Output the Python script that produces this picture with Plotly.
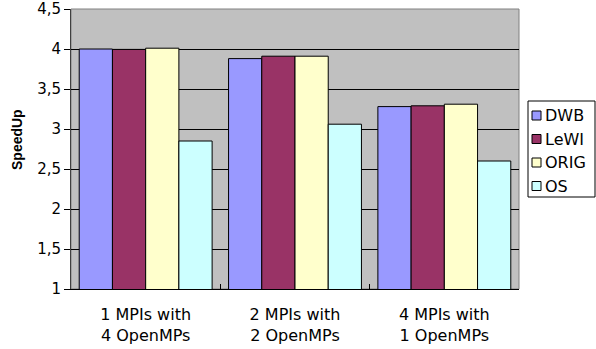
import plotly.graph_objects as go

categories = ["1 MPIs with<br>4 OpenMPs", "2 MPIs with<br>2 OpenMPs", "4 MPIs with<br>1 OpenMPs"]
series_names = ["DWB", "LeWI", "ORIG", "OS"]
dwb = [4.00, 3.88, 3.28]
lewi = [3.995, 3.91, 3.29]
orig = [4.01, 3.91, 3.31]
os_vals = [2.85, 3.06, 2.60]
colors = ["#9999FF", "#993366", "#FFFFCC", "#CCFFFF"]
y_ticks = [1, 1.5, 2, 2.5, 3, 3.5, 4, 4.5]
y_title = "SpeedUp"

W, H = 596, 349
L, R, T, B = 71, 77, 9, 60
PW, PH = W - L - R, H - T - B


def px_x(px):
    return (px - L) / PW


def px_y(py):
    return (H - B - py) / PH


FONT = "DejaVu Sans, Liberation Sans, Arial, sans-serif"

fig = go.Figure()
for name, vals, col in zip(series_names, [dwb, lewi, orig, os_vals], colors):
    fig.add_trace(go.Bar(
        x=categories, y=vals, name=name, showlegend=False,
        marker=dict(color=col, line=dict(color="black", width=1)),
    ))

fig.update_layout(
    width=W, height=H,
    margin=dict(l=L, r=R, t=T, b=B, autoexpand=False),
    paper_bgcolor="white",
    plot_bgcolor="#C0C0C0",
    barmode="group",
    bargap=0.11,
    bargroupgap=0,
    separators=", ",
    font=dict(family=FONT, color="black"),
    showlegend=False,
    xaxis=dict(
        showline=True, linecolor="black", linewidth=1,
        ticks="inside", tickson="boundaries", ticklen=5, tickcolor="black",
        tickfont=dict(size=16), showgrid=False, ticklabelstandoff=11,
    ),
    yaxis=dict(
        range=[1, 4.5], tickvals=y_ticks, ticks="outside", ticklen=6,
        tickcolor="black", tickfont=dict(size=15),
        showline=True, linecolor="#404040", linewidth=1,
        showgrid=True, gridcolor="black", gridwidth=1,
        zeroline=False,
    ),
)
fig.add_shape(type="rect", xref="paper", yref="paper", x0=0, y0=0, x1=1, y1=1,
              line=dict(color="#808080", width=1), layer="below")

# y-axis title
fig.add_annotation(xref="paper", yref="paper", x=px_x(17), y=px_y(140),
                   xanchor="center", yanchor="middle", textangle=-90,
                   text="<b>" + y_title + "</b>", showarrow=False,
                   font=dict(size=14, color="black", family="Liberation Sans, Arial, sans-serif"))

# legend box (drawn to match the narrow reference legend)
fig.add_shape(type="rect", xref="paper", yref="paper",
              x0=px_x(528), x1=px_x(595), y0=px_y(197), y1=px_y(101),
              line=dict(color="black", width=1), fillcolor="white")
row_y = [115.5, 139, 162.5, 186]
for name, col, ry in zip(series_names, colors, row_y):
    fig.add_shape(type="rect", xref="paper", yref="paper",
                  x0=px_x(532), x1=px_x(541), y0=px_y(ry + 4.5), y1=px_y(ry - 4.5),
                  line=dict(color="black", width=1), fillcolor=col)
    fig.add_annotation(xref="paper", yref="paper", x=px_x(543), y=px_y(ry),
                       xanchor="left", yanchor="middle", text=name, showarrow=False,
                       font=dict(size=16, color="black", family=FONT))

fig.write_html("out.html", config={"displayModeBar": False},
               post_script="document.body.style.margin='0';")
